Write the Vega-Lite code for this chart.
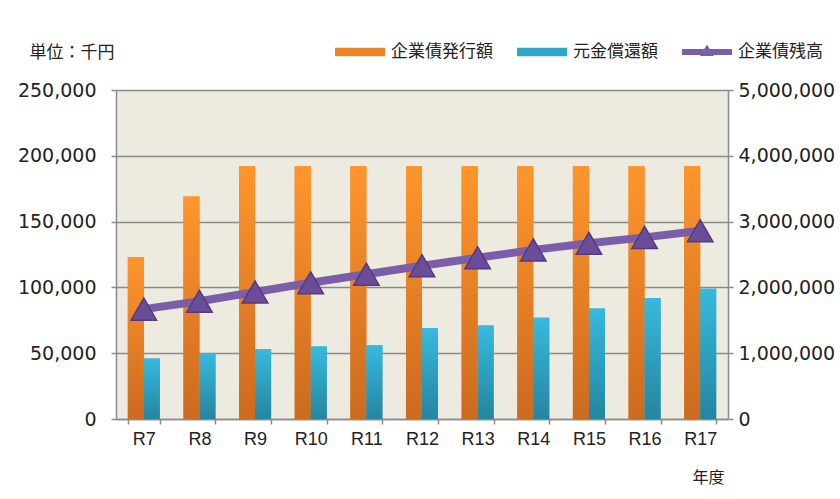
{
  "$schema": "https://vega.github.io/schema/vega-lite/v6.json",
  "width": 612,
  "height": 329,
  "autosize": {"type": "none"},
  "padding": {"left": 116, "top": 90, "right": 112, "bottom": 80},
  "background": "#FFFFFF",
  "config": {
    "view": {"stroke": null, "fill": "#EDEBE0"},
    "axis": {"labelColor": "#222222", "tickColor": "#8A8A8A", "domainColor": "#8A8A8A", "domainWidth": 1.5, "tickWidth": 1.5, "tickSize": 5}
  },
  "data": {
    "values": [
      {"年度": "R7", "企業債発行額": 123000, "元金償還額": 46000, "企業債残高": 1670000},
      {"年度": "R8", "企業債発行額": 169000, "元金償還額": 50000, "企業債残高": 1790000},
      {"年度": "R9", "企業債発行額": 192000, "元金償還額": 53000, "企業債残高": 1930000},
      {"年度": "R10", "企業債発行額": 192000, "元金償還額": 55000, "企業債残高": 2070000},
      {"年度": "R11", "企業債発行額": 192000, "元金償還額": 56000, "企業債残高": 2200000},
      {"年度": "R12", "企業債発行額": 192000, "元金償還額": 69000, "企業債残高": 2330000},
      {"年度": "R13", "企業債発行額": 192000, "元金償還額": 71000, "企業債残高": 2450000},
      {"年度": "R14", "企業債発行額": 192000, "元金償還額": 77000, "企業債残高": 2570000},
      {"年度": "R15", "企業債発行額": 192000, "元金償還額": 84000, "企業債残高": 2670000},
      {"年度": "R16", "企業債発行額": 192000, "元金償還額": 92000, "企業債残高": 2760000},
      {"年度": "R17", "企業債発行額": 192000, "元金償還額": 99000, "企業債残高": 2860000}
    ]
  },
  "encoding": {
    "x": {
      "field": "年度", "type": "nominal", "sort": null,
      "scale": {"paddingInner": 0.424, "paddingOuter": 0.212},
      "axis": {
        "title": "年度", "titleX": 592, "titleY": 58, "titleAlign": "center", "titleBaseline": "middle",
        "titleFont": "Noto Sans CJK JP", "titleFontSize": 16, "titleFontWeight": "normal", "titleColor": "#222222",
        "labelAngle": 0, "labelFont": "Liberation Sans", "labelFontSize": 18, "labelPadding": 6,
        "tickBand": "extent"
      }
    }
  },
  "layer": [
    {
      "transform": [{"fold": ["企業債発行額", "元金償還額"], "as": ["key", "value"]}],
      "encoding": {
        "xOffset": {"field": "key", "type": "nominal", "scale": {"domain": ["企業債発行額", "元金償還額"], "paddingInner": 0, "paddingOuter": 0}},
        "y": {
          "field": "value", "type": "quantitative",
          "scale": {"domain": [0, 250000], "nice": false},
          "axis": {
            "values": [0, 50000, 100000, 150000, 200000, 250000], "format": ",.0f",
            "title": "単位：千円", "titleAngle": 0, "titleX": -87, "titleY": -38, "titleAlign": "left", "titleBaseline": "middle",
            "titleFont": "Noto Sans CJK JP", "titleFontSize": 17, "titleFontWeight": "normal", "titleColor": "#222222",
            "labelFont": "DejaVu Sans", "labelFontSize": 19, "labelPadding": 15,
            "grid": true, "gridColor": "#8A8A8A", "gridWidth": 1.5
          }
        }
      },
      "layer": [
        {
          "mark": {"type": "bar"},
          "encoding": {
            "color": {
              "field": "key", "type": "nominal",
              "scale": {"domain": ["企業債発行額", "元金償還額", "企業債残高"], "range": ["#EC8428", "#2FA6CA", "#7B5EA7"]},
              "legend": {
                "orient": "none", "legendX": 219, "legendY": -63, "direction": "horizontal", "title": null,
                "symbolSize": 2500, "labelFont": "Noto Sans CJK JP", "labelFontSize": 17, "labelColor": "#222222",
                "labelOffset": 6, "columnPadding": 24, "labelLimit": 300,
                "encode": {
                  "symbols": {
                    "update": {
                      "shape": {"signal": "datum.value === '企業債残高' ? 'M-1,-0.12H1V0.12H-1Z M-0.28,0.16L0,-0.3L0.28,0.16Z' : 'M-1,-0.17H1V0.17H-1Z'"},
                      "fill": {"signal": "scale('color', datum.value)"},
                      "stroke": {"value": "transparent"},
                      "strokeWidth": {"value": 0},
                      "opacity": {"value": 1}
                    }
                  }
                }
              }
            }
          }
        },
        {
          "mark": {"type": "bar"},
          "encoding": {
            "color": {
              "condition": {
                "test": "datum.key === '企業債発行額'",
                "value": {"gradient": "linear", "x1": 0, "y1": 0, "x2": 0, "y2": 1, "stops": [{"offset": 0, "color": "#FF962C"}, {"offset": 1, "color": "#CC6A1F"}]}
              },
              "value": {"gradient": "linear", "x1": 0, "y1": 0, "x2": 0, "y2": 1, "stops": [{"offset": 0, "color": "#38B9DE"}, {"offset": 1, "color": "#2485A0"}]}
            }
          }
        }
      ]
    },
    {
      "encoding": {
        "y": {
          "field": "企業債残高", "type": "quantitative",
          "scale": {"domain": [0, 5000000], "nice": false},
          "axis": {
            "orient": "right", "values": [0, 1000000, 2000000, 3000000, 4000000, 5000000], "format": ",.0f",
            "title": null, "labelFont": "DejaVu Sans", "labelFontSize": 19, "labelPadding": 5, "grid": false
          }
        }
      },
      "layer": [
        {
          "mark": {"type": "line", "strokeWidth": 8},
          "encoding": {"color": {"datum": "企業債残高", "type": "nominal"}}
        },
        {
          "mark": {"type": "point", "shape": "triangle-up", "filled": true, "size": 650, "fill": "#6B4C99", "stroke": "#553A80", "strokeWidth": 1.5, "opacity": 1}
        }
      ]
    }
  ],
  "resolve": {"scale": {"y": "independent"}}
}
